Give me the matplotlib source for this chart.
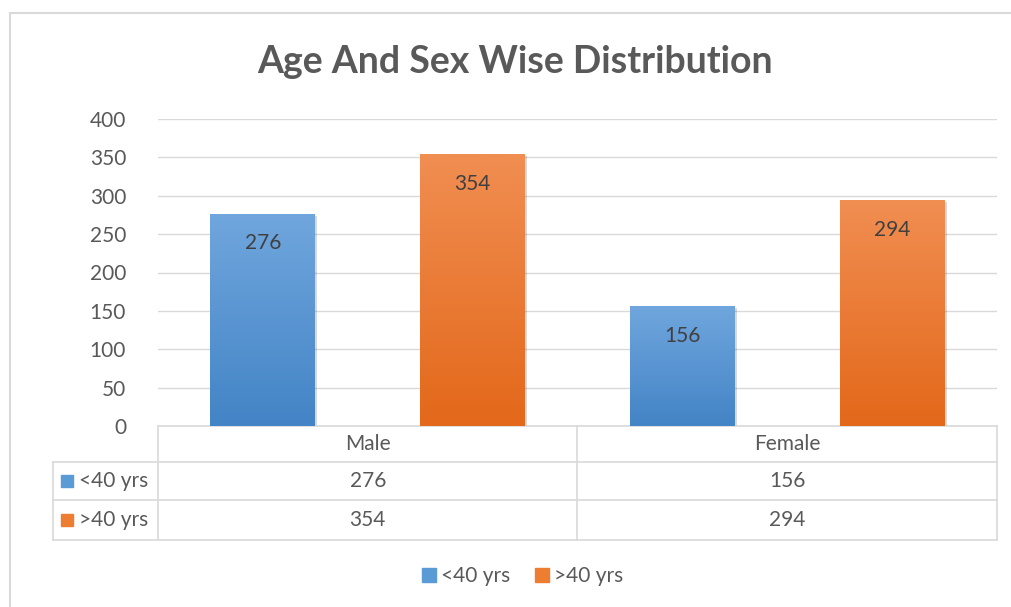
import matplotlib
matplotlib.use("Agg")
import matplotlib.pyplot as plt
import matplotlib.transforms as mtransforms
from matplotlib.patches import Rectangle
from matplotlib.lines import Line2D
import matplotlib.patheffects as pe
import numpy as np

# ---- data ----
title = "Age And Sex Wise Distribution"
categories = ["Male", "Female"]
series_names = ["<40 yrs", ">40 yrs"]
under_40 = [276, 156]
over_40 = [354, 294]
y_ticks = [0, 50, 100, 150, 200, 250, 300, 350, 400]

plt.rcParams['font.family'] = ['Lato', 'DejaVu Sans']
TXT = "#595959"
GRID = "#d9d9d9"
FS = 15
colors_top = ["#70a6dd", "#f18e52"]
colors_bot = ["#4384c6", "#e3681a"]
colors_mid = ["#5b9bd5", "#ed7d31"]

W, H = 1012, 607
fig = plt.figure(figsize=(W / 100, H / 100), dpi=100)

def fx(px):
    return px / W

def fy(py):
    return (H - py) / H

# outer border
fig.patches.append(Rectangle((fx(10), fy(620)), fx(1020) - fx(10), fy(13) - fy(620),
                             transform=fig.transFigure, fill=False, edgecolor="#d9d9d9",
                             linewidth=1.5, zorder=0))

ax = fig.add_axes([fx(158), fy(426), fx(997) - fx(158), fy(119) - fy(426)])
for s in ax.spines.values():
    s.set_visible(False)

n = len(categories)
x = np.arange(n)
bw = 0.25
series = [under_40, over_40]
offsets = [-0.25, 0.25]

ax.set_xlim(-0.5, n - 0.5)
ax.set_ylim(0, 400)
ax.set_yticks(y_ticks)
ax.set_yticklabels([str(t) for t in y_ticks], fontsize=FS, color=TXT)
ax.tick_params(axis='y', length=0, pad=23)
ax.set_xticks([])
ax.yaxis.grid(True, color=GRID, linewidth=1)
ax.set_axisbelow(True)

grad = np.linspace(0, 1, 256).reshape(-1, 1)
for si, vals in enumerate(series):
    bars = ax.bar(x + offsets[si], vals, width=bw, color=colors_mid[si], zorder=2,
                  linewidth=0)
    for b, v in zip(bars, vals):
        b.set_path_effects([pe.SimplePatchShadow(offset=(1.5, -1.5), shadow_rgbFace='k', alpha=0.15),
                            pe.Normal()])
        c0 = np.array(matplotlib.colors.to_rgb(colors_bot[si]))
        c1 = np.array(matplotlib.colors.to_rgb(colors_top[si]))
        img = c0[None, None, :] * (1 - grad[:, :, None]) + c1[None, None, :] * grad[:, :, None]
        x0 = b.get_x()
        im = ax.imshow(img, extent=[x0, x0 + bw, 0, v], origin='lower', aspect='auto',
                       zorder=3, interpolation='bilinear')
        im.set_clip_path(b)
        ax.text(x0 + bw / 2, v - 46, str(v), ha='center', va='baseline', fontsize=FS,
                color="#404040", zorder=4)

ax.set_xlim(-0.5, n - 0.5)
ax.set_ylim(0, 400)

# ---- data table ----
trans = mtransforms.blended_transform_factory(ax.transData, ax.transAxes)
ppx = 307.0  # axes height in px
cpx = 419.5  # category width in px

def ay(py):
    return (426 - py) / ppx

def axd(px):
    return -0.5 + (px - 158) / cpx

lkw = dict(color=GRID, linewidth=1.2, transform=trans, clip_on=False)
ax.add_line(Line2D([-0.5, n - 0.5], [ay(426), ay(426)], **lkw))
for yy in [462, 500, 540]:
    ax.add_line(Line2D([axd(53), n - 0.5], [ay(yy), ay(yy)], **lkw))
ax.add_line(Line2D([axd(53), axd(53)], [ay(462), ay(540)], **lkw))
for xx in np.arange(n + 1) - 0.5:
    ax.add_line(Line2D([xx, xx], [ay(426), ay(540)], **lkw))

for i, c in enumerate(categories):
    ax.text(i, ay(444), c, ha='center', va='center', fontsize=FS, color=TXT,
            transform=trans, clip_on=False)
row_y = [481, 520]
for si, vals in enumerate(series):
    for i, v in enumerate(vals):
        ax.text(i, ay(row_y[si]), str(v), ha='center', va='center', fontsize=FS,
                color=TXT, transform=trans, clip_on=False)
    ax.add_line(Line2D([axd(66.5)], [ay(row_y[si])], marker='s', markersize=9,
                       markerfacecolor=colors_mid[si], markeredgecolor=colors_mid[si],
                       linestyle='none', transform=trans, clip_on=False))
    ax.text(axd(79), ay(row_y[si]), series_names[si], ha='left', va='center', fontsize=FS,
            color=TXT, transform=trans, clip_on=False)

# legend
handles = [Line2D([], [], marker='s', linestyle='none', markersize=10,
                  markerfacecolor=colors_mid[i], markeredgecolor=colors_mid[i])
           for i in range(len(series_names))]
fig.legend(handles, series_names, loc='center', bbox_to_anchor=(fx(521), fy(576)),
           ncol=2, frameon=False, fontsize=FS, labelcolor=TXT, handletextpad=0.1,
           columnspacing=1.0, handlelength=1.0)

fig.text(fx(515), fy(62), title, ha='center', va='center', fontsize=27,
         fontweight='bold', color=TXT)

fig.savefig("out.png", dpi=100)
